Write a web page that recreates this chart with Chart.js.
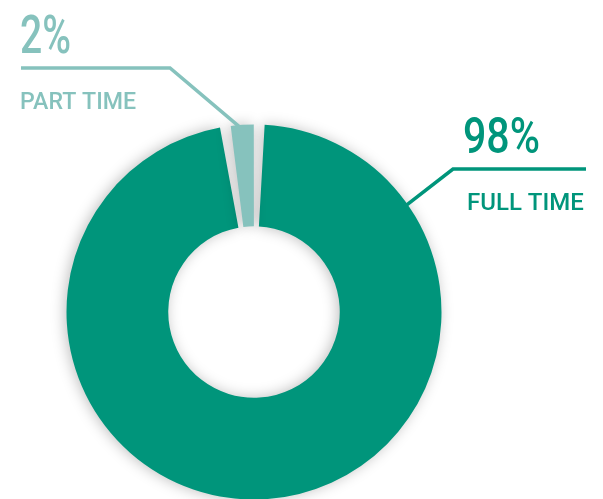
<!DOCTYPE html>
<html lang="en">
<head>
    <meta charset="UTF-8">
    <title>Full time vs part time</title>
    <script src="https://cdn.jsdelivr.net/npm/chart.js"></script>
    <style>
        html, body {
          margin: 0;
          padding: 0;
          background: #fff;
        }
        .wrap {
          width: 603px;
          height: 499px;
          position: relative;
        }
    </style>
</head>
<body>
<div class="wrap">
    <canvas id="chart" width="603" height="499"></canvas>
</div>

<script>
    // data
    const categories = ['FULL TIME', 'PART TIME'];
    const shares = [98, 2];
    const sliceColors = ['#00957b', '#86c2bd'];

    // label placement (style only)
    const labelStyle = [
      { pct: { x: 463, y: 153, size: 50, w: 77 }, name: { x: 467, y: 210, w: 117 },
        line: { y: 169, x0: 586, elbow: 453 }, anchorDeg: 55 },
      { pct: { x: 20, y: 53, size: 54, w: 51 }, name: { x: 20, y: 109, w: 116 },
        line: { y: 68, x0: 21, elbow: 170 }, anchorDeg: null }
    ];

    const shadowPlugin = {
      id: 'softShadow',
      beforeDatasetsDraw(chart) {
        const ctx = chart.ctx;
        ctx.save();
        ctx.shadowColor = 'rgba(0,0,0,0.25)';
        ctx.shadowBlur = 14;
        ctx.shadowOffsetX = -2;
        ctx.shadowOffsetY = 0;
      },
      afterDatasetsDraw(chart) {
        chart.ctx.restore();
      }
    };

    const calloutPlugin = {
      id: 'callouts',
      afterDraw(chart) {
        const ctx = chart.ctx;
        const arcs = chart.getDatasetMeta(0).data;
        arcs.forEach((arc, i) => {
          const st = labelStyle[i];
          const color = sliceColors[i];
          let ang;
          if (st.anchorDeg === null) {
            ang = (arc.startAngle + arc.endAngle) / 2;
          } else {
            ang = -Math.PI / 2 + st.anchorDeg * Math.PI / 180;
          }
          const ax = arc.x + Math.cos(ang) * (arc.outerRadius - 2);
          const ay = arc.y + Math.sin(ang) * (arc.outerRadius - 2);

          ctx.save();
          ctx.strokeStyle = color;
          ctx.lineWidth = 3.5;
          ctx.beginPath();
          ctx.moveTo(st.line.x0, st.line.y);
          ctx.lineTo(st.line.elbow, st.line.y);
          ctx.lineTo(ax, ay);
          ctx.stroke();

          ctx.fillStyle = color;
          ctx.textAlign = 'left';
          ctx.textBaseline = 'alphabetic';
          ctx.font = '500 ' + st.pct.size + 'px Roboto';
          ctx.fillText(shares[i] + '%', st.pct.x, st.pct.y, st.pct.w);
          ctx.font = '500 24px Roboto';
          ctx.fillText(categories[i], st.name.x, st.name.y, st.name.w);
          ctx.restore();
        });
      }
    };

    new Chart(document.getElementById('chart'), {
      type: 'doughnut',
      data: {
        labels: categories,
        datasets: [{
          data: shares,
          backgroundColor: sliceColors,
          borderWidth: 0,
          spacing: 5
        }]
      },
      options: {
        responsive: false,
        animation: false,
        rotation: 0,
        radius: 185,
        cutout: '45%',
        layout: { padding: { left: 67, right: 162, top: 125, bottom: 0 } },
        plugins: {
          legend: { display: false },
          tooltip: { enabled: false }
        }
      },
      plugins: [shadowPlugin, calloutPlugin]
    });
</script>
</body>
</html>
